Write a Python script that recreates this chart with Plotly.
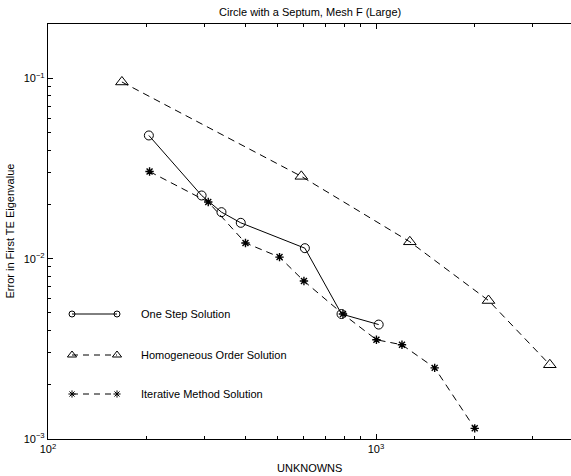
import numpy as np
import plotly.graph_objects as go

# ---- data ----
one_step_x = [203, 294, 338, 387, 607, 785, 1019]
one_step_y = [0.0482, 0.0224, 0.0181, 0.0158, 0.01143, 0.00493, 0.00431]

homog_x = [168, 592, 1268, 2203, 3388]
homog_y = [0.0954, 0.0286, 0.0124, 0.00586, 0.00258]

iter_x = [204, 308, 400, 508, 603, 793, 1003, 1200, 1510, 2000]
iter_y = [0.0304, 0.0206, 0.01222, 0.0102, 0.00751, 0.00493, 0.00355, 0.00333, 0.00248, 0.001146]

legend_labels = ["One Step Solution", "Homogeneous Order Solution", "Iterative Method Solution"]
title_text = "Circle with a Septum, Mesh F (Large)"
x_title = "UNKNOWNS"
y_title = "Error in First TE Eigenvalue"

x_major = [100, 1000]
x_major_text = ["10<sup>2</sup>", "10<sup>3</sup>"]
y_major = [0.001, 0.01, 0.1]
y_major_text = ["10<sup>\u22123</sup>", "10<sup>\u22122</sup>", "10<sup>\u22121</sup>"]

# ---- style ----
W, H = 571, 476
ML, MR, MT, MB = 48, 0, 24, 37
FONT = "Liberation Sans, Arial, Helvetica, sans-serif"
DASH = "7px,5px"

x_minor = [m * d for d in (100, 1000) for m in range(2, 10) if m * d <= 4000]
y_minor = [m * d for d in (0.001, 0.01, 0.1) for m in range(2, 10) if m * d <= 0.2]

fig = go.Figure()

fig.add_trace(go.Scatter(
    x=one_step_x, y=one_step_y, mode="lines+markers",
    line=dict(color="black", width=1),
    marker=dict(symbol="circle-open", size=9, color="black", line=dict(width=1)),
    showlegend=False))
fig.add_trace(go.Scatter(
    x=homog_x, y=homog_y, mode="lines+markers",
    line=dict(color="black", width=1, dash=DASH),
    marker=dict(symbol="triangle-up-open", size=11, color="black", line=dict(width=1)),
    showlegend=False))
fig.add_trace(go.Scatter(
    x=iter_x, y=iter_y, mode="lines+markers",
    line=dict(color="black", width=1, dash=DASH),
    marker=dict(symbol="asterisk-open", size=7, color="black", line=dict(width=1.4)),
    showlegend=False))

# ---- manual legend drawn on an overlay axis in pixel-like units ----
leg_rows = [314, 355, 394]
leg_x0, leg_x1, leg_tx = 72, 117, 139
leg_syms = ["circle-open", "triangle-up-open", "asterisk-open"]
leg_sizes = [6, 8, 6]
leg_dash = ["solid", "6px,5px", "6px,5px"]
for i, lab in enumerate(legend_labels):
    fig.add_trace(go.Scatter(
        x=[leg_x0, leg_x1], y=[leg_rows[i]] * 2, xaxis="x2", yaxis="y2",
        mode="lines+markers",
        line=dict(color="black", width=1, dash=leg_dash[i]),
        marker=dict(symbol=leg_syms[i], size=leg_sizes[i], color="black", line=dict(width=1)),
        showlegend=False, hoverinfo="skip"))
    fig.add_annotation(x=leg_tx, y=leg_rows[i], xref="x2", yref="y2",
                       text=lab, showarrow=False, xanchor="left", yanchor="middle",
                       font=dict(family=FONT, size=11, color="black"))

axis_common = dict(
    type="log", showgrid=False, zeroline=False,
    showline=True, linecolor="black", linewidth=1.3,
    ticks="inside", ticklen=5, tickwidth=1, tickcolor="black",
    tickmode="array",
    tickfont=dict(family=FONT, size=11, color="black"),
)

plot_w = W - ML - MR
x_hi = 2 + plot_w / 328.0

fig.update_layout(
    width=W, height=H,
    margin=dict(l=ML, r=MR, t=MT, b=MB, pad=0),
    paper_bgcolor="white", plot_bgcolor="white",
    font=dict(family=FONT, size=11, color="black"),
    xaxis=dict(**axis_common, range=[2, x_hi], mirror="allticks",
               tickvals=x_major, ticktext=x_major_text,
               minor=dict(tickmode="array", tickvals=x_minor, ticks="inside",
                          ticklen=3, tickcolor="black", tickwidth=1, showgrid=False)),
    yaxis=dict(**axis_common, range=[-3, np.log10(0.2)],
               tickvals=y_major, ticktext=y_major_text,
               minor=dict(tickmode="array", tickvals=y_minor, ticks="inside",
                          ticklen=3, tickcolor="black", tickwidth=1, showgrid=False)),
    xaxis2=dict(overlaying="x", range=[ML, W - MR], visible=False, fixedrange=True),
    yaxis2=dict(overlaying="y", range=[H - MB, MT], visible=False, fixedrange=True),
    showlegend=False,
)

fig.add_annotation(text=title_text, xref="paper", yref="paper", x=0.5, y=1,
                   yshift=12, showarrow=False, yanchor="middle",
                   font=dict(family=FONT, size=11, color="black"))
fig.add_annotation(text=x_title, xref="paper", yref="paper", x=0.5, y=0,
                   yshift=-29, showarrow=False, yanchor="middle",
                   font=dict(family=FONT, size=11, color="black"))
fig.add_annotation(text=y_title, xref="paper", yref="paper", x=0, y=0.5,
                   xshift=-39, showarrow=False, textangle=-90, xanchor="center",
                   font=dict(family=FONT, size=11, color="black"))

fig.write_html("out.html")
